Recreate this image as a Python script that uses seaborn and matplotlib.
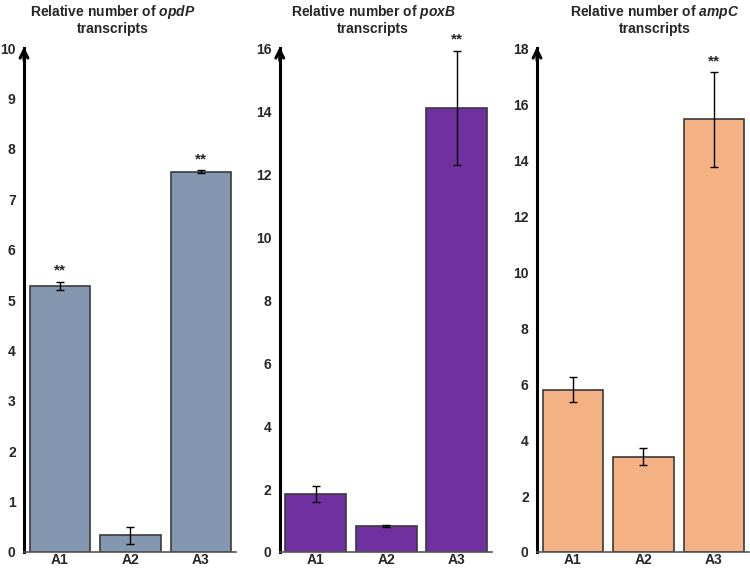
import matplotlib.pyplot as plt
import pandas as pd
import seaborn as sns

# 数据
samples = ["A1", "A2", "A3"]
genes = ["opdP", "poxB", "ampC"]
opdp_means = [5.28, 0.33, 7.55]
opdp_err = [0.08, 0.17, 0.03]
poxb_means = [1.85, 0.82, 14.1]
poxb_err = [0.25, 0.04, 1.82]
ampc_means = [5.8, 3.4, 15.45]
ampc_err = [0.45, 0.3, 1.68]
ymax = [10, 16, 18]
ystep = [1, 2, 2]
stars = [["**", "", "**"], ["", "", "**"], ["", "", "**"]]
colors = ["#8497b0", "#7030a0", "#f4b183"]

sns.set_style("white")
plt.rcParams["font.family"] = ["Liberation Sans", "DejaVu Sans"]
plt.rcParams["mathtext.fontset"] = "custom"
plt.rcParams["mathtext.bfit"] = "Liberation Sans:bold:italic"

fig = plt.figure(figsize=(7.5, 5.7), dpi=100)
lefts = [0.032, 0.373, 0.716]
width = 0.283
title_x = [0.42, 0.44, 0.555]

means_all = [opdp_means, poxb_means, ampc_means]
err_all = [opdp_err, poxb_err, ampc_err]

for i, gene in enumerate(genes):
    ax = fig.add_axes([lefts[i], 0.0316, width, 0.884])
    df = pd.DataFrame({"sample": samples, "value": means_all[i]})
    sns.barplot(data=df, x="sample", y="value", color=colors[i], width=0.86,
                edgecolor="#3a3a3a", linewidth=1.2, saturation=1, ax=ax)
    ax.errorbar(range(3), means_all[i], yerr=err_all[i], fmt="none",
                ecolor="black", elinewidth=1, capsize=3, capthick=1)
    for j, s in enumerate(stars[i]):
        if s:
            top = means_all[i][j] + err_all[i][j]
            ax.text(j, top + ymax[i] * 0.008, s, ha="center", va="bottom",
                    fontsize=11, fontweight="bold")
    ax.set_xlim(-0.51, 2.5)
    ax.set_ylim(0, ymax[i])
    ax.set_yticks(range(0, ymax[i] + 1, ystep[i]))
    ax.set_xlabel("")
    ax.set_ylabel("")
    ax.tick_params(axis="y", length=0, labelsize=10, pad=6)
    ax.tick_params(axis="x", length=0, labelsize=10, pad=1)
    for lab in ax.get_xticklabels() + ax.get_yticklabels():
        lab.set_fontweight("bold")
    ax.spines["top"].set_visible(False)
    ax.spines["right"].set_visible(False)
    ax.spines["left"].set_linewidth(2.2)
    ax.spines["left"].set_color("black")
    ax.spines["bottom"].set_linewidth(1.2)
    ax.spines["bottom"].set_color("#555555")
    # 箭头
    ax.annotate("", xy=(0, 1.008), xytext=(0, 0.97), xycoords="axes fraction",
                arrowprops=dict(arrowstyle="->", lw=2.2, color="black",
                                mutation_scale=14))
    ax.set_title(r"Relative number of $\mathbfit{" + gene + "}$" + "\ntranscripts",
                 fontsize=10, fontweight="bold", pad=11, linespacing=1.05,
                 x=title_x[i])

plt.savefig("out.png", dpi=100)
